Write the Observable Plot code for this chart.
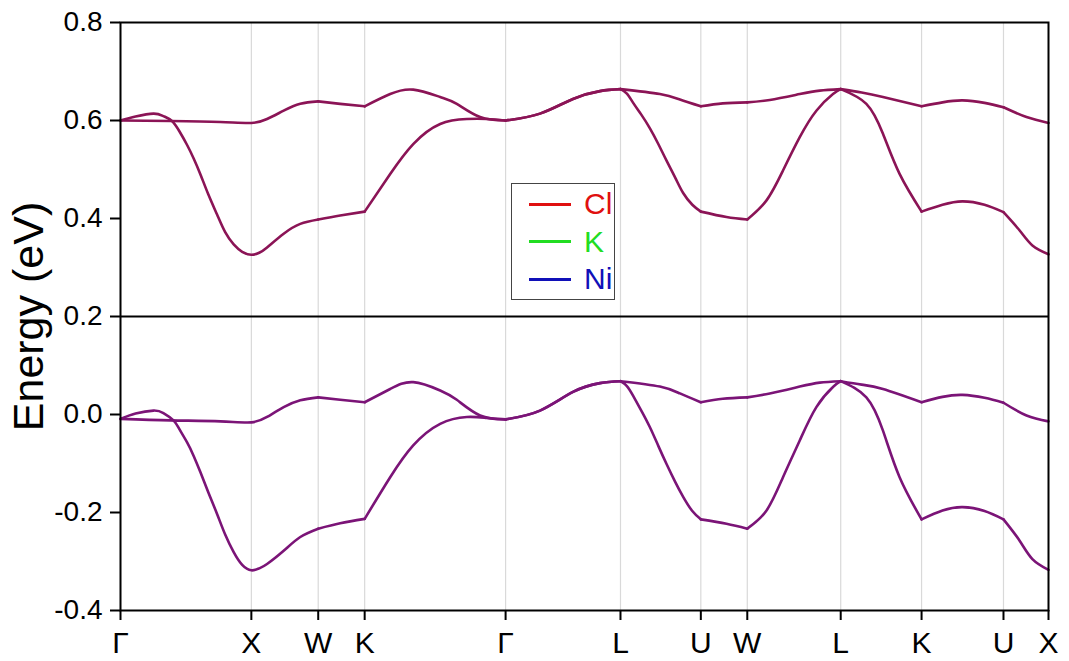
<!DOCTYPE html>
<html>
<head>
<meta charset="utf-8">
<script src="https://cdn.jsdelivr.net/npm/d3@7"></script>
<script src="https://cdn.jsdelivr.net/npm/@observablehq/plot@0.6"></script>
<style>
  body { margin: 0; background: #fff; }
  #wrap { position: relative; width: 1069px; height: 661px; font-family: "Liberation Sans", Arial, sans-serif; }
  #legend { position: absolute; left: 511px; top: 183px; width: 102px; height: 115px; border: 1.5px solid #444; background: #fff; }
  .item { position: absolute; left: 0; height: 30px; display: flex; align-items: center; font-size: 30px; }
  .item span.ln { display: inline-block; width: 42px; height: 3px; margin-left: 17px; margin-right: 13px; }
</style>
</head>
<body>
<div id="wrap"></div>
<script>
// High-symmetry points along the k-path (2π/a units)
const kTicks = [0, 1.000, 1.511, 1.866, 2.943, 3.821, 4.435, 4.790, 5.504, 6.122, 6.748, 7.092];
const kLabels = ["Γ", "X", "W", "K", "Γ", "L", "U", "W", "L", "K", "U", "X"];
const yTicks = [-0.4, -0.2, 0.0, 0.2, 0.4, 0.6, 0.8];

// Upper panel bands [k, E]
const bandUp1 = [[0,.600],[0.382,.599],[0.763,.597],[1.000,.595],[1.120,.603],[1.247,.620],[1.374,.634],[1.511,.639],[1.679,.634],[1.866,.629],[2.061,.654],[2.237,.663],[2.443,.648],[2.570,.634],[2.748,.607],[2.943,.600],[3.206,.614],[3.458,.644],[3.664,.660],[3.821,.664],[4.122,.654],[4.275,.643],[4.435,.629],[4.603,.635],[4.790,.637],[4.962,.642],[5.191,.654],[5.344,.661],[5.504,.664],[5.664,.657],[5.827,.648],[6.122,.629],[6.282,.637],[6.435,.641],[6.603,.636],[6.748,.627],[6.924,.607],[7.092,.595]];
const bandUp2 = [[0,.600],[0.115,.608],[0.252,.614],[0.328,.609],[0.393,.599],[0.450,.578],[0.509,.550],[0.560,.522],[0.611,.490],[0.670,.450],[0.738,.408],[0.800,.372],[0.865,.347],[0.930,.332],[1.000,.326],[1.060,.330],[1.120,.341],[1.247,.369],[1.374,.389],[1.511,.398],[1.679,.406],[1.866,.414],[2.061,.491],[2.237,.552],[2.443,.593],[2.647,.603],[2.799,.603],[2.943,.600],[3.206,.614],[3.458,.644],[3.664,.660],[3.821,.664],[3.870,.655],[3.918,.636],[3.980,.612],[4.046,.584],[4.110,.552],[4.173,.518],[4.240,.483],[4.300,.452],[4.370,.428],[4.435,.414],[4.631,.403],[4.790,.398],[4.937,.437],[5.063,.498],[5.191,.566],[5.318,.620],[5.445,.654],[5.504,.664],[5.700,.634],[5.827,.573],[5.954,.491],[6.122,.414],[6.282,.428],[6.435,.435],[6.603,.428],[6.748,.413],[6.870,.376],[6.969,.345],[7.092,.327]];

// Lower panel bands [k, E]
const bandDn1 = [[0,-.009],[0.382,-.012],[0.763,-.014],[1.000,-.016],[1.120,-.005],[1.247,.015],[1.374,.029],[1.511,.035],[1.679,.030],[1.866,.025],[2.061,.052],[2.237,.066],[2.443,.049],[2.570,.030],[2.748,-.002],[2.943,-.010],[3.206,.008],[3.458,.046],[3.664,.064],[3.821,.068],[4.122,.057],[4.275,.043],[4.435,.025],[4.603,.032],[4.790,.035],[4.962,.043],[5.191,.057],[5.344,.065],[5.504,.068],[5.664,.061],[5.827,.052],[6.122,.025],[6.282,.036],[6.435,.040],[6.603,.034],[6.748,.024],[6.924,-.002],[7.092,-.014]];
const bandDn2 = [[0,-.009],[0.115,.002],[0.252,.008],[0.328,.003],[0.405,-.012],[0.450,-.030],[0.509,-.057],[0.560,-.085],[0.611,-.118],[0.670,-.158],[0.738,-.203],[0.800,-.245],[0.865,-.281],[0.930,-.307],[1.000,-.318],[1.060,-.314],[1.120,-.305],[1.247,-.278],[1.374,-.250],[1.511,-.233],[1.679,-.222],[1.866,-.213],[2.061,-.128],[2.237,-.063],[2.443,-.019],[2.647,-.005],[2.799,-.007],[2.943,-.010],[3.206,.008],[3.458,.046],[3.664,.064],[3.821,.068],[3.870,.058],[3.918,.038],[3.980,.008],[4.046,-.026],[4.110,-.064],[4.173,-.101],[4.240,-.138],[4.300,-.168],[4.370,-.197],[4.435,-.214],[4.631,-.223],[4.790,-.233],[4.937,-.196],[5.063,-.128],[5.191,-.053],[5.318,.015],[5.445,.056],[5.504,.068],[5.700,.035],[5.827,-.033],[5.954,-.128],[6.122,-.214],[6.282,-.196],[6.435,-.189],[6.603,-.197],[6.748,-.214],[6.870,-.257],[6.969,-.295],[7.092,-.317]];

const legendNames = ["Cl", "K", "Ni"];
const legendColors = ["#e01010", "#22dd22", "#1010b8"];
const upColor = "#8b1456";
const dnColor = "#7b1477";

// split each band into path segments at the points where the path bends (bands pass smoothly through X)
const breaks = kTicks.slice(2, -1);
function segs(pts, name) {
  const out = [];
  for (const [k, e] of pts) {
    const s = breaks.filter(t => t < k - 1e-6).length;
    out.push({k, e, z: name + s});
    if (breaks.some(t => Math.abs(t - k) < 1e-6)) out.push({k, e, z: name + (s + 1)});
  }
  return out;
}
const upData = [...segs(bandUp1, "u1_"), ...segs(bandUp2, "u2_")];
const dnData = [...segs(bandDn1, "d1_"), ...segs(bandDn2, "d2_")];

const chart = Plot.plot({
  width: 1069,
  height: 661,
  marginLeft: 120,
  marginRight: 21,
  marginTop: 22,
  marginBottom: 51,
  style: {fontFamily: "'Liberation Sans', Arial, sans-serif", background: "#fff", color: "#000"},
  x: {domain: [0, kTicks[kTicks.length - 1]]},
  y: {domain: [-0.4, 0.8]},
  marks: [
    Plot.ruleX(kTicks, {stroke: "#d9d9d9", strokeWidth: 1.2}),
    Plot.line(upData, {x: "k", y: "e", z: "z", stroke: upColor, strokeWidth: 2.6, curve: "natural"}),
    Plot.line(dnData, {x: "k", y: "e", z: "z", stroke: dnColor, strokeWidth: 2.6, curve: "natural"}),
    Plot.ruleY([0.2], {stroke: "#000", strokeWidth: 2}),
    Plot.frame({stroke: "#000", strokeWidth: 2}),
    Plot.axisX({ticks: kTicks, tickFormat: d => kLabels[kTicks.indexOf(d)], tickSize: 10, tickPadding: 11, strokeWidth: 2, fontSize: 30, label: null}),
    Plot.axisY({ticks: yTicks, tickFormat: d => d.toFixed(1), tickSize: 10, tickPadding: 8, strokeWidth: 2, fontSize: 28, label: null}),
    Plot.text(["Energy (eV)"], {frameAnchor: "left", textAnchor: "middle", rotate: -90, dx: -91, fontSize: 43, fill: "#000"})
  ]
});
const wrap = document.getElementById("wrap");
wrap.appendChild(chart);

const legend = document.createElement("div");
legend.id = "legend";
legendNames.forEach((n, i) => {
  const it = document.createElement("div");
  it.className = "item";
  it.style.top = (5 + i * 37.5) + "px";
  it.innerHTML = `<span class="ln" style="background:${legendColors[i]}"></span><span style="color:${legendColors[i]}">${n}</span>`;
  legend.appendChild(it);
});
wrap.appendChild(legend);
</script>
</body>
</html>
